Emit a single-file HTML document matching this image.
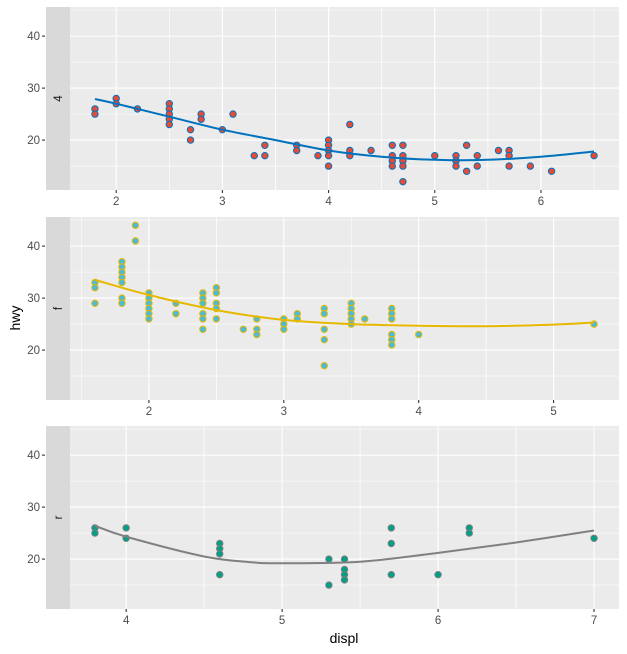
<!DOCTYPE html>
<html><head><meta charset="utf-8"><style>
body{margin:0;background:#fff;}
svg{display:block;font-family:"Liberation Sans",Arial,sans-serif;}
</style></head><body>
<svg id="chart" width="627" height="654" viewBox="0 0 627 654" xmlns="http://www.w3.org/2000/svg"></svg>
<script>
const facetLabels = ["4", "f", "r"];
const xTicks4 = [2, 3, 4, 5, 6];
const xTicksF = [2, 3, 4, 5];
const xTicksR = [4, 5, 6, 7];
const yTicks = [20, 30, 40];
const displ4 = [1.8,1.8,2.0,2.0,2.2,2.5,2.5,2.5,2.5,2.5,2.7,2.7,2.8,2.8,3.0,3.1,3.3,3.4,3.4,3.7,3.7,3.9,4.0,4.0,4.0,4.0,4.0,4.2,4.2,4.2,4.4,4.6,4.6,4.6,4.6,4.7,4.7,4.7,4.7,4.7,5.0,5.2,5.2,5.2,5.3,5.3,5.4,5.4,5.6,5.7,5.7,5.7,5.9,6.1,6.5];
const hwy4   = [26,25,28,27,26,27,26,25,24,23,22,20,25,24,22,25,17,19,17,19,18,17,20,19,18,17,15,23,18,17,18,19,17,16,15,19,17,16,15,12,17,17,16,15,19,14,17,15,18,18,17,15,15,14,17];
const displF = [1.6,1.6,1.6,1.8,1.8,1.8,1.8,1.8,1.8,1.8,1.9,1.9,2.0,2.0,2.0,2.0,2.0,2.0,2.2,2.2,2.4,2.4,2.4,2.4,2.4,2.4,2.5,2.5,2.5,2.5,2.5,2.7,2.8,2.8,2.8,3.0,3.0,3.0,3.1,3.1,3.3,3.3,3.3,3.3,3.3,3.5,3.5,3.5,3.5,3.5,3.6,3.8,3.8,3.8,3.8,3.8,3.8,4.0,5.3];
const hwyF   = [33,32,29,37,36,35,34,33,30,29,44,41,31,30,29,28,27,26,29,27,31,30,29,27,26,24,32,31,29,28,26,24,26,24,23,26,25,24,27,26,28,27,24,22,17,29,28,27,26,25,26,28,27,26,23,22,21,23,25];
const displR = [3.8,3.8,4.0,4.0,4.6,4.6,4.6,4.6,5.3,5.3,5.4,5.4,5.4,5.4,5.7,5.7,5.7,6.0,6.2,6.2,7.0];
const hwyR   = [26,25,26,24,23,22,21,17,20,15,20,18,17,16,26,23,17,17,26,25,24];
const smooth4X = [1.8,2.0,2.5,3.0,3.5,4.0,4.5,5.0,5.5,6.0,6.5];
const smooth4Y = [27.9,27.0,24.5,22.0,20.0,18.0,16.8,16.2,16.2,16.8,17.8];
const smoothFX = [1.6,2.0,2.5,3.0,3.5,4.0,4.5,5.0,5.3];
const smoothFY = [33.5,30.6,27.7,25.8,25.0,24.7,24.6,24.9,25.3];
const smoothRX = [3.8,4.0,4.5,4.8,5.0,5.5,6.0,6.5,7.0];
const smoothRY = [26.4,24.3,20.5,19.4,19.2,19.5,21.2,23.2,25.5];

const svg = document.getElementById('chart');
const NS = 'http://www.w3.org/2000/svg';
function mk(tag, attrs, parent){const e=document.createElementNS(NS,tag);for(const k in attrs)e.setAttribute(k,attrs[k]);(parent||svg).appendChild(e);return e;}
function smoothPath(P){
  let d = 'M' + P[0][0].toFixed(1) + ',' + P[0][1].toFixed(1);
  for (let i = 0; i < P.length - 1; i++) {
    const p0 = P[i-1] || P[i], p1 = P[i], p2 = P[i+1], p3 = P[i+2] || P[i+1];
    const c1x = p1[0] + (p2[0]-p0[0])/6, c1y = p1[1] + (p2[1]-p0[1])/6;
    const c2x = p2[0] - (p3[0]-p1[0])/6, c2y = p2[1] - (p3[1]-p1[1])/6;
    d += ` C${c1x.toFixed(1)},${c1y.toFixed(1)} ${c2x.toFixed(1)},${c2y.toFixed(1)} ${p2[0].toFixed(1)},${p2[1].toFixed(1)}`;
  }
  return d;
}

const PX0 = 70, PX1 = 619, PH = 183;
const YMIN = 10.4, YMAX = 45.6;
const panels = [
  {top:7,  xs:displ4, ys:hwy4, sx:smooth4X, sy:smooth4Y, ticks:xTicks4, fill:'#e64b35', stroke:'#0072bd', line:'#0072bd', name:'4'},
  {top:217,xs:displF, ys:hwyF, sx:smoothFX, sy:smoothFY, ticks:xTicksF, fill:'#4dbbd5', stroke:'#e7b800', line:'#e7b800', name:'f'},
  {top:426,xs:displR, ys:hwyR, sx:smoothRX, sy:smoothRY, ticks:xTicksR, fill:'#00a087', stroke:'#7f7f7f', line:'#808080', name:'r'}
];

panels.forEach((p, i) => {
  const dmin = Math.min(...p.xs), dmax = Math.max(...p.xs);
  const pad = (dmax - dmin) * 0.05;
  const x0 = dmin - pad, x1 = dmax + pad;
  const X = v => PX0 + (v - x0) / (x1 - x0) * (PX1 - PX0);
  const Y = v => p.top + (YMAX - v) / (YMAX - YMIN) * PH;
  const g = mk('g', {});
  
  
  const bg = mk('rect', {x:PX0, y:p.top, width:PX1-PX0, height:PH, fill:'#ebebeb'}, g);
  
  
  for (let v = 15; v < YMAX; v += 10) mk('line', {x1:PX0, x2:PX1, y1:Y(v), y2:Y(v), stroke:'#fff', 'stroke-width':0.55}, g);
  p.ticks.forEach(t => { [t-0.5, t+0.5].forEach(m => { if (m > x0 && m < x1) mk('line', {x1:X(m), x2:X(m), y1:p.top, y2:p.top+PH, stroke:'#fff', 'stroke-width':0.55}, g); }); });
  yTicks.forEach(t => {
    mk('line', {x1:PX0, x2:PX1, y1:Y(t), y2:Y(t), stroke:'#fff', 'stroke-width':1.1}, g);
    mk('line', {x1:42, x2:45, y1:Y(t), y2:Y(t), stroke:'#333', 'stroke-width':1.1}, g);
    const tl = mk('text', {x:40, y:Y(t)+4, 'text-anchor':'end', 'font-size':11.5, fill:'#4d4d4d'}, g);
    tl.textContent = t;
    
    
  });
  p.ticks.forEach(t => {
    mk('line', {x1:X(t), x2:X(t), y1:p.top, y2:p.top+PH, stroke:'#fff', 'stroke-width':1.1}, g);
    mk('line', {x1:X(t), x2:X(t), y1:p.top+PH, y2:p.top+PH+3, stroke:'#333', 'stroke-width':1.1}, g);
    const tl = mk('text', {x:X(t), y:p.top+PH+15, 'text-anchor':'middle', 'font-size':11.5, fill:'#4d4d4d'}, g);
    tl.textContent = t;
    
    
  });
  const strip = mk('rect', {x:46, y:p.top, width:PX0-46, height:PH, fill:'#d9d9d9'}, g);
  
  
  const sl = mk('text', {x:0, y:0, 'text-anchor':'middle', 'font-size':11.5, fill:'#1a1a1a', transform:`translate(${62},${p.top+PH/2}) rotate(-90)`}, g);
  sl.textContent = facetLabels[i];
  
  
  p.xs.forEach((d, k) => {
    const c = mk('circle', {cx:X(d), cy:Y(p.ys[k]), r:3.2, fill:p.fill, stroke:p.stroke, 'stroke-width':1}, g);
    
    
  });
  const P = p.sx.map((d, k) => [X(d), Y(p.sy[k])]);
  const pl = mk('path', {d:smoothPath(P), fill:'none', stroke:p.line, 'stroke-width':2}, g);
  
  
});

const yt = mk('text', {x:0, y:0, 'text-anchor':'middle', 'font-size':14, fill:'#000', transform:'translate(20,318) rotate(-90)'});
yt.textContent = 'hwy';


const xt = mk('text', {x:344, y:643, 'text-anchor':'middle', 'font-size':14, fill:'#000'});
xt.textContent = 'displ';


</script>
</body></html>
